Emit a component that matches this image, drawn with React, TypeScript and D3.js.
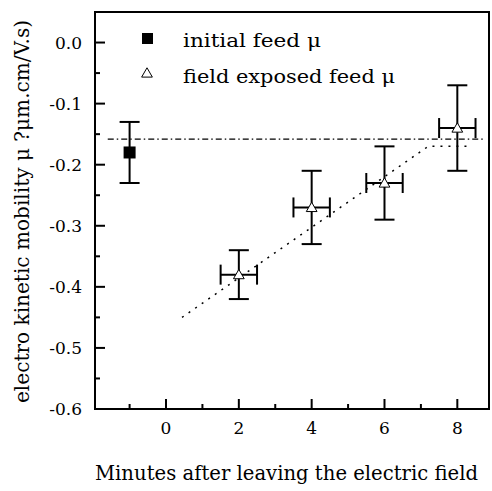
import { useRef, useEffect } from "react";
import * as d3 from "d3";

// initial feed
const initX = [-1];
const initY = [-0.18];
const initErr = [0.05];

// field exposed feed
const fieldX = [2, 4, 6, 8];
const fieldY = [-0.38, -0.27, -0.23, -0.14];
const fieldYErr = [0.04, 0.06, 0.06, 0.07];
const fieldXErr = [0.5, 0.5, 0.5, 0.5];

// guide lines
const refLevel = -0.158;
const refFrom = -1.6;
const refTo = 8.7;
const trendX = [0.44, 7.2, 8.4];
const trendY = [-0.45, -0.17, -0.17];

const xTicks = [0, 2, 4, 6, 8];
const yTicks = ["0.0", "-0.1", "-0.2", "-0.3", "-0.4", "-0.5", "-0.6"];

const App = () => {
  const svgRef = useRef<SVGSVGElement>(null);

  useEffect(() => {
    const w = 492;
    const h = 491;
    const left = 95, right = 489, top = 12, bottom = 409;
    const svg = d3.select(svgRef.current).attr("width", w).attr("height", h);
    svg.selectAll("*").remove();

    const x = d3.scaleLinear().domain([-1.95, 8.87]).range([left, right]);
    const y = d3.scaleLinear().domain([-0.6, 0.05]).range([bottom, top]);
    const font = "DejaVu Serif";

    // minor + major ticks
    const g = svg.append("g");
    d3.range(-1, 9, 1).forEach((v) => {
      const major = v % 2 === 0;
      g.append("line")
        .attr("x1", x(v)).attr("x2", x(v))
        .attr("y1", bottom).attr("y2", bottom - (major ? 10 : 5))
        .attr("stroke", "black").attr("stroke-width", 2);
    });
    d3.range(0, 13).forEach((i) => {
      const v = -i * 0.05;
      const major = i % 2 === 0;
      g.append("line")
        .attr("x1", left).attr("x2", left + (major ? 10 : 5))
        .attr("y1", y(v)).attr("y2", y(v))
        .attr("stroke", "black").attr("stroke-width", 2);
    });

    svg.append("g").selectAll("text").data(xTicks).join("text")
      .attr("x", (d) => x(d)).attr("y", 434)
      .attr("text-anchor", "middle")
      .attr("font-family", font).attr("font-size", 17)
      .text((d) => d);
    svg.append("g").selectAll("text").data(yTicks).join("text")
      .attr("x", 82).attr("y", (d) => y(+d) + 6)
      .attr("text-anchor", "end")
      .attr("font-family", font).attr("font-size", 17)
      .text((d) => d);

    // frame
    svg.append("rect")
      .attr("x", left).attr("y", top)
      .attr("width", right - left).attr("height", bottom - top)
      .attr("fill", "none").attr("stroke", "black").attr("stroke-width", 2);

    // dash-dot reference
    svg.append("line")
      .attr("x1", x(refFrom)).attr("x2", x(refTo))
      .attr("y1", y(refLevel)).attr("y2", y(refLevel))
      .attr("stroke", "black").attr("stroke-width", 1.3)
      .attr("stroke-dasharray", "6,3,1.5,3");

    // dotted trend
    const line = d3.line<number>().x((d) => x(d)).y((d, i) => y(trendY[i]));
    svg.append("path")
      .attr("d", line(trendX))
      .attr("fill", "none").attr("stroke", "black").attr("stroke-width", 1.5)
      .attr("stroke-dasharray", "2,6");

    const eb = svg.append("g").attr("stroke", "black").attr("stroke-width", 2);
    const cap = 10;
    // initial feed error bars
    initX.forEach((xv, i) => {
      const cx = x(xv);
      eb.append("line").attr("x1", cx).attr("x2", cx)
        .attr("y1", y(initY[i] + initErr[i])).attr("y2", y(initY[i] - initErr[i]));
      [initErr[i], -initErr[i]].forEach((e) => {
        eb.append("line").attr("x1", cx - cap).attr("x2", cx + cap)
          .attr("y1", y(initY[i] + e)).attr("y2", y(initY[i] + e));
      });
    });
    // field exposed error bars
    fieldX.forEach((xv, i) => {
      const cx = x(xv), cy = y(fieldY[i]);
      eb.append("line").attr("x1", cx).attr("x2", cx)
        .attr("y1", y(fieldY[i] + fieldYErr[i])).attr("y2", y(fieldY[i] - fieldYErr[i]));
      [fieldYErr[i], -fieldYErr[i]].forEach((e) => {
        eb.append("line").attr("x1", cx - cap).attr("x2", cx + cap)
          .attr("y1", y(fieldY[i] + e)).attr("y2", y(fieldY[i] + e));
      });
      eb.append("line").attr("x1", x(xv - fieldXErr[i])).attr("x2", x(xv + fieldXErr[i]))
        .attr("y1", cy).attr("y2", cy);
      [fieldXErr[i], -fieldXErr[i]].forEach((e) => {
        eb.append("line").attr("x1", x(xv + e)).attr("x2", x(xv + e))
          .attr("y1", cy - cap).attr("y2", cy + cap);
      });
    });

    const tri = d3.symbol().type(d3.symbolTriangle).size(50);
    // markers
    svg.append("g").selectAll("rect").data(initX).join("rect")
      .attr("x", (d) => x(d) - 6).attr("y", (d, i) => y(initY[i]) - 6)
      .attr("width", 12).attr("height", 12).attr("fill", "black");
    svg.append("g").selectAll("path").data(fieldX).join("path")
      .attr("d", tri)
      .attr("transform", (d, i) => `translate(${x(d)},${y(fieldY[i]) + 1})`)
      .attr("fill", "white").attr("stroke", "black").attr("stroke-width", 1);

    // legend
    svg.append("rect").attr("x", 142).attr("y", 33).attr("width", 11).attr("height", 11).attr("fill", "black");
    svg.append("path").attr("d", tri).attr("transform", "translate(147,74)")
      .attr("fill", "white").attr("stroke", "black").attr("stroke-width", 1);
    svg.append("text").attr("x", 183).attr("y", 47)
      .attr("font-family", font).attr("font-size", 19)
      .attr("textLength", 138).attr("lengthAdjust", "spacingAndGlyphs")
      .text("initial feed μ");
    svg.append("text").attr("x", 183).attr("y", 83)
      .attr("font-family", font).attr("font-size", 19)
      .attr("textLength", 212).attr("lengthAdjust", "spacingAndGlyphs")
      .text("field exposed feed μ");

    // axis titles
    svg.append("text").attr("x", 95).attr("y", 480)
      .attr("textLength", 383).attr("lengthAdjust", "spacingAndGlyphs")
      .attr("font-family", font).attr("font-size", 20)
      .text("Minutes after leaving the electric field");
    svg.append("text")
      .attr("transform", "translate(29,403) rotate(-90)")
      .attr("textLength", 383).attr("lengthAdjust", "spacingAndGlyphs")
      .attr("font-family", font).attr("font-size", 20)
      .text("electro kinetic mobility μ ?μm.cm/V.s)");
  }, []);

  return (
    <div style={{ position: "absolute", left: 0, top: 0 }}>
      <svg ref={svgRef}></svg>
    </div>
  );
};

export default App;
